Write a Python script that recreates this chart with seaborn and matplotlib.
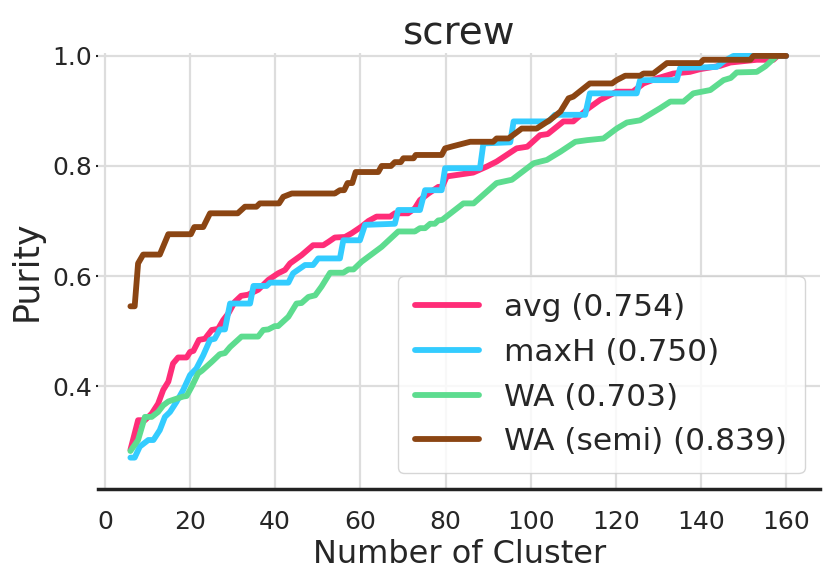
import pandas as pd
import matplotlib
matplotlib.use("Agg")
import matplotlib.pyplot as plt
import seaborn as sns

# Purity curves (corner points)
avg_x = [6, 7.8, 9.4, 11, 12.5, 13.7, 14.9, 16, 17.2, 19.2, 20, 20.8, 22.1, 23.5, 25.1,
         26.6, 27.8, 29, 30.5, 32, 33.6, 36, 38.4, 40.7, 42.3, 43.5, 46.2, 48.9, 51.3,
         52.5, 54, 56.4, 58, 60.3, 61.9, 63.8, 67, 68.1, 71.2, 72.8, 74, 76, 78.3, 79.2,
         80.3, 86.5, 89.7, 92, 96.7, 99.2, 102.2, 104, 107.7, 110, 113.6, 116.3, 120.2,
         124, 126.5, 129.6, 133.5, 137.4, 139.8, 144.5, 146.9, 153.1, 157, 158, 160]
avg_y = [0.284, 0.338, 0.338, 0.350, 0.368, 0.393, 0.408, 0.441, 0.452, 0.452, 0.462,
         0.464, 0.484, 0.486, 0.502, 0.504, 0.520, 0.532, 0.553, 0.564, 0.566, 0.575,
         0.593, 0.605, 0.611, 0.623, 0.638, 0.656, 0.656, 0.662, 0.670, 0.671, 0.678,
         0.690, 0.700, 0.708, 0.708, 0.714, 0.714, 0.723, 0.738, 0.750, 0.762, 0.762,
         0.781, 0.788, 0.799, 0.808, 0.832, 0.835, 0.856, 0.858, 0.881, 0.881, 0.905,
         0.920, 0.935, 0.935, 0.950, 0.959, 0.968, 0.971, 0.976, 0.982, 0.988, 0.993,
         0.993, 1.0, 1.0]

maxh_x = [6, 7, 8.2, 10.2, 11.4, 12.9, 14.1, 15.3, 16.8, 18.4, 20, 21.5, 23.1, 24.7,
          25.8, 27, 28.2, 29.4, 34.1, 34.9, 38, 38.8, 43.1, 44.2, 47, 48.9, 50.1, 55.2,
          56, 59.9, 61.1, 68.1, 68.9, 74, 75.2, 79.1, 79.9, 88.1, 88.9, 95.2, 96, 104.2,
          105.7, 112.8, 113.9, 124.9, 125.7, 134.3, 135.1, 143.7, 145.3, 147.6, 160]
maxh_y = [0.270, 0.270, 0.290, 0.302, 0.302, 0.320, 0.344, 0.353, 0.371, 0.393, 0.420,
          0.432, 0.456, 0.484, 0.486, 0.503, 0.503, 0.550, 0.550, 0.582, 0.582, 0.588,
          0.588, 0.605, 0.620, 0.620, 0.632, 0.632, 0.665, 0.665, 0.693, 0.695, 0.720,
          0.720, 0.756, 0.756, 0.796, 0.796, 0.841, 0.843, 0.881, 0.881, 0.893, 0.893,
          0.932, 0.932, 0.956, 0.956, 0.978, 0.980, 0.990, 1.0, 1.0]

wa_x = [6, 7.8, 9.4, 11, 12.5, 13.7, 14.9, 16.4, 18.4, 19.2, 20.4, 21.9, 22.8, 25.1, 27,
        28.2, 29.4, 32.1, 36, 37.2, 38.4, 39.9, 40.7, 43.1, 45, 46.2, 47.8, 49.4, 50.9,
        52.9, 56, 57.2, 58.4, 60.3, 65, 68.9, 72.8, 74, 75.2, 76.4, 77.5, 78.3, 79.2,
        84.2, 86.6, 92, 95.6, 100.7, 103.8, 107, 110.5, 113.3, 117.1, 120.2, 122.6,
        125.7, 130.4, 132.8, 135.9, 138.2, 142.2, 145.3, 147, 148.4, 153.1, 155.1, 157.8]
wa_y = [0.282, 0.302, 0.344, 0.344, 0.353, 0.365, 0.372, 0.376, 0.381, 0.382, 0.399,
        0.423, 0.428, 0.444, 0.458, 0.460, 0.471, 0.490, 0.490, 0.502, 0.503, 0.509,
        0.509, 0.526, 0.550, 0.551, 0.562, 0.565, 0.581, 0.606, 0.606, 0.612, 0.612,
        0.626, 0.653, 0.681, 0.681, 0.687, 0.687, 0.695, 0.695, 0.701, 0.702, 0.732,
        0.732, 0.769, 0.775, 0.805, 0.811, 0.826, 0.844, 0.847, 0.850, 0.868, 0.879,
        0.883, 0.905, 0.917, 0.917, 0.932, 0.938, 0.956, 0.960, 0.970, 0.971, 0.981, 1.0]

semi_x = [6, 7, 7.8, 9, 12.9, 14.9, 20.2, 21, 23.1, 24.7, 31.2, 32.9, 35.6, 36.4, 40.9,
          41.9, 43.9, 54, 55.2, 56.2, 57, 58.1, 58.9, 64.2, 65, 67.2, 68.1, 69.5, 70.1,
          72.5, 73, 79.1, 79.9, 81.8, 85.8, 91.2, 92, 94.8, 97.9, 101.4, 104.6, 107,
          108.9, 110, 113.9, 119.1, 120.2, 122.2, 125.7, 126.5, 128.8, 132, 139.8, 140.6,
          151.6, 152.3, 160]
semi_y = [0.545, 0.545, 0.623, 0.639, 0.639, 0.676, 0.676, 0.689, 0.689, 0.714, 0.714,
          0.726, 0.726, 0.732, 0.732, 0.744, 0.750, 0.750, 0.756, 0.756, 0.769, 0.769,
          0.789, 0.789, 0.800, 0.800, 0.807, 0.807, 0.814, 0.814, 0.820, 0.820, 0.832,
          0.836, 0.844, 0.844, 0.850, 0.850, 0.868, 0.868, 0.884, 0.899, 0.923, 0.926,
          0.950, 0.950, 0.956, 0.964, 0.964, 0.968, 0.968, 0.987, 0.987, 0.993, 0.993,
          1.0, 1.0]

labels = ["avg (0.754)", "maxH (0.750)", "WA (0.703)", "WA (semi) (0.839)"]
colors = ["#ff2d78", "#33ccff", "#5ddc8f", "#8b4513"]

frames = []
for lab, xs, ys in zip(labels, [avg_x, maxh_x, wa_x, semi_x],
                       [avg_y, maxh_y, wa_y, semi_y]):
    frames.append(pd.DataFrame({"clusters": xs, "purity": ys, "method": lab}))
df = pd.concat(frames, ignore_index=True)

sns.set_theme(style="whitegrid")
plt.rcParams["font.family"] = ["DejaVu Sans"]

fig, ax = plt.subplots(figsize=(8.31, 5.78), dpi=100)
fig.subplots_adjust(left=0.118, right=0.987, top=0.908, bottom=0.154)

sns.lineplot(data=df, x="clusters", y="purity", hue="method",
             palette=dict(zip(labels, colors)), linewidth=4.2,
             estimator=None, sort=False, ax=ax)

ax.set_xlim(-1.6, 168)
ax.set_ylim(0.213, 1.005)
ax.set_xticks(range(0, 161, 20))
ax.set_yticks([0.4, 0.6, 0.8, 1.0])
ax.tick_params(axis="x", labelsize=18, pad=9)
ax.tick_params(axis="y", labelsize=18, pad=3, left=True, length=1.5, width=1.5,
               color="#222222")
ax.grid(color="#dddddd", linewidth=1.6)

ax.set_title("screw", fontsize=28)
ax.set_xlabel("Number of Cluster", fontsize=23)
ax.set_ylabel("Purity", fontsize=25, labelpad=6)

sns.despine(ax=ax, left=True)
ax.spines["bottom"].set_color("#222222")
ax.spines["bottom"].set_linewidth(2.5)

leg = ax.legend(loc="lower right", fontsize=22.5, handlelength=2.05,
                frameon=True, borderpad=0.55)
for line in leg.get_lines():
    line.set_linewidth(4.2)

plt.savefig("out.png")
